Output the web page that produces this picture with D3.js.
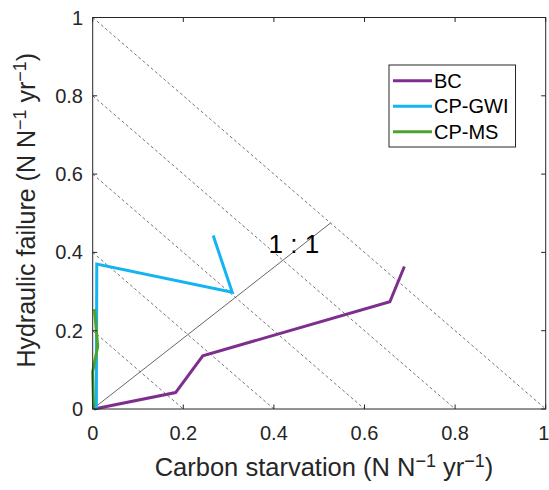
<!DOCTYPE html>
<html><head><meta charset="utf-8">
<script src="https://cdn.jsdelivr.net/npm/d3@7"></script>
<style>body{margin:0;background:#fff}svg{display:block}text{font-family:"Liberation Sans",Arial,sans-serif;fill:#262626}</style>
</head><body><svg id="c" width="549" height="490"></svg>
<script>
const seriesNames = ["BC", "CP-GWI", "CP-MS"];
const seriesColors = ["#7E2F8E", "#12B5F2", "#4CA42E"];
const bcX = [0.003, 0.183, 0.243, 0.656, 0.688];
const bcY = [0.000, 0.042, 0.136, 0.274, 0.364];
const gwiX = [0.008, 0.009, 0.308, 0.266];
const gwiY = [0.000, 0.370, 0.298, 0.443];
const msX = [0.002, 0.000, 0.011, 0.004];
const msY = [0.000, 0.095, 0.160, 0.255];
const isoLevels = [0.2, 0.4, 0.6, 0.8, 1.0];
const oneToOne = {x: [0, 0.525], y: [0, 0.475]};
const tickValues = [0, 0.2, 0.4, 0.6, 0.8, 1];

const svg = d3.select("#c");
const L = 92.7, T = 17.5, W = 453, H = 391.5;
const x = d3.scaleLinear().domain([0, 1]).range([L, L + W]);
const y = d3.scaleLinear().domain([0, 1]).range([T + H, T]);
const fmt = d => d === 0 || d === 1 ? String(d) : d3.format(".1f")(d);

// iso lines x + y = c
const g = svg.append("g");
isoLevels.forEach(c => {
  g.append("line").attr("x1", x(0)).attr("y1", y(c)).attr("x2", x(c)).attr("y2", y(0))
    .attr("stroke", "#666").attr("stroke-width", 0.9).attr("stroke-dasharray", "3,2.5");
});
// 1:1 line
g.append("line").attr("x1", x(oneToOne.x[0])).attr("y1", y(oneToOne.y[0]))
  .attr("x2", x(oneToOne.x[1])).attr("y2", y(oneToOne.y[1]))
  .attr("stroke", "#555").attr("stroke-width", 0.9);
svg.append("text").attr("x", x(0.444)).attr("y", y(0.398)).attr("font-size", 26)
  .attr("text-anchor", "middle").style("fill", "#000").text("1 : 1");

// series
const line = d3.line().x(d => x(d[0])).y(d => y(d[1]));
const data = [d3.zip(bcX, bcY), d3.zip(gwiX, gwiY), d3.zip(msX, msY)];
data.forEach((pts, i) => {
  svg.append("path").attr("d", line(pts)).attr("fill", "none")
    .attr("stroke", seriesColors[i]).attr("stroke-width", 3).attr("stroke-linejoin", "miter");
});

// axes (box with inward ticks)
const axisCol = "#262626";
svg.append("rect").attr("x", L).attr("y", T).attr("width", W).attr("height", H)
  .attr("fill", "none").attr("stroke", axisCol).attr("stroke-width", 1);
const tl = 4.5;
tickValues.forEach(v => {
  svg.append("line").attr("x1", x(v)).attr("x2", x(v)).attr("y1", T + H).attr("y2", T + H - tl).attr("stroke", axisCol);
  svg.append("line").attr("x1", x(v)).attr("x2", x(v)).attr("y1", T).attr("y2", T + tl).attr("stroke", axisCol);
  svg.append("line").attr("y1", y(v)).attr("y2", y(v)).attr("x1", L).attr("x2", L + tl).attr("stroke", axisCol);
  svg.append("line").attr("y1", y(v)).attr("y2", y(v)).attr("x1", L + W).attr("x2", L + W - tl).attr("stroke", axisCol);
  svg.append("text").attr("x", v === 1 ? x(v) - 2 : x(v)).attr("y", 440).attr("text-anchor", "middle").attr("font-size", 20).text(fmt(v));
  svg.append("text").attr("x", 83).attr("y", y(v) + 7).attr("text-anchor", "end").attr("font-size", 20).text(fmt(v));
});

// axis labels
function unitLabel(sel, main) {
  sel.append("tspan").text(main + " (N N");
  sel.append("tspan").attr("dy", -9).attr("font-size", 18).text("\u22121");
  sel.append("tspan").attr("dy", 9).text(" yr");
  sel.append("tspan").attr("dy", -9).attr("font-size", 18).text("\u22121");
  sel.append("tspan").attr("dy", 9).text(")");
}
const xl = svg.append("text").attr("x", 324).attr("y", 476).attr("text-anchor", "middle").attr("font-size", 25.5);
unitLabel(xl, "Carbon starvation");
const yl = svg.append("text").attr("transform", `translate(35,${T + H / 2 - 3}) rotate(-90)`).attr("text-anchor", "middle").attr("font-size", 25);
unitLabel(yl, "Hydraulic failure");

// legend
const lg = svg.append("g");
lg.append("rect").attr("x", 389).attr("y", 65).attr("width", 126.5).attr("height", 82)
  .attr("fill", "#fff").attr("stroke", axisCol).attr("stroke-width", 1);
seriesNames.forEach((n, i) => {
  const yy = 80.7 + i * 25.5;
  lg.append("line").attr("x1", 393).attr("x2", 432).attr("y1", yy).attr("y2", yy)
    .attr("stroke", seriesColors[i]).attr("stroke-width", 3);
  lg.append("text").attr("x", 434).attr("y", yy + 7).attr("font-size", 20).style("fill", "#000").text(n);
});
</script></body></html>
